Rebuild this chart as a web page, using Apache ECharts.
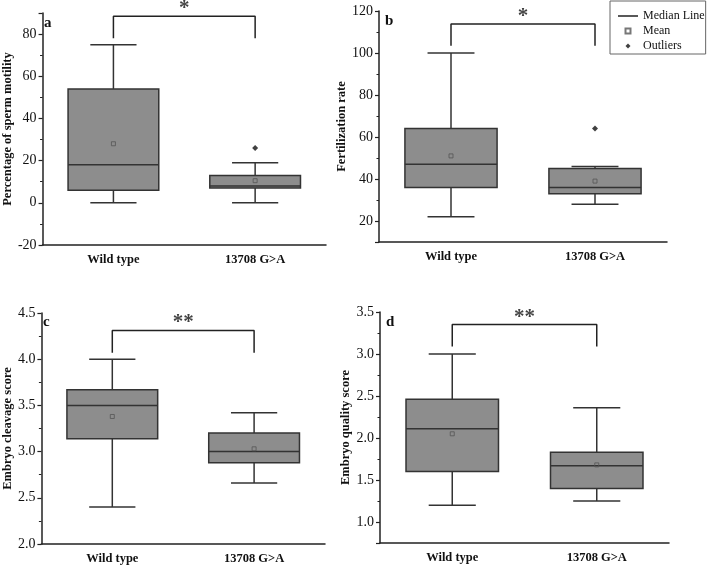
<!DOCTYPE html>
<html>
<head>
<meta charset="UTF-8">
<title>Box plots</title>
<script src="https://cdn.jsdelivr.net/npm/echarts@6/dist/echarts.min.js"></script>
<style>
  html, body { margin: 0; padding: 0; background: #fff; }
  #main { width: 708px; height: 565px; }
</style>
</head>
<body>
<div id="main"></div>
<script>
var groups = ['Wild type', '13708 G>A'];

// box rows: [min, Q1, median, Q3, max] for Wild type, 13708 G>A
var motilityBox = [[0, 6, 18, 54, 75], [0, 7, 8, 13, 19]];
var motilityMean = [28, 10.5];
var motilityOutliers = [[1, 26]];

var fertilBox = [[22, 36, 47, 64, 100], [28, 33, 36, 45, 46]];
var fertilMean = [51, 39];
var fertilOutliers = [[1, 64]];

var cleavageBox = [[2.4, 3.14, 3.5, 3.67, 4.0], [2.66, 2.88, 3.0, 3.2, 3.42]];
var cleavageMean = [3.38, 3.03];
var cleavageOutliers = [];

var qualityBox = [[1.2, 1.6, 2.11, 2.46, 3.0], [1.25, 1.4, 1.67, 1.83, 2.36]];
var qualityMean = [2.05, 1.68];
var qualityOutliers = [];

// significance brackets: [bottom, top] of bracket, and the mark
var motilityBracket = [78, 88.5];
var fertilBracket = [103.4, 113.8];
var cleavageBracket = [4.07, 4.31];
var qualityBracket = [3.09, 3.35];
var signif = ['*', '*', '**', '**'];

var yNames = ['Percentage of sperm motility', 'Fertilization rate', 'Embryo cleavage score', 'Embryo quality score'];
var letters = ['a', 'b', 'c', 'd'];

var panels = [
  {box: motilityBox, mean: motilityMean, out: motilityOutliers, br: motilityBracket},
  {box: fertilBox, mean: fertilMean, out: fertilOutliers, br: fertilBracket},
  {box: cleavageBox, mean: cleavageMean, out: cleavageOutliers, br: cleavageBracket},
  {box: qualityBox, mean: qualityMean, out: qualityOutliers, br: qualityBracket}
];

var FONT = '"Liberation Serif", "Times New Roman", serif';
var INK = '#222';

var grids = [
  {left: 38, top: 13, width: 288, height: 232},
  {left: 379, top: 11, width: 288, height: 231},
  {left: 36, top: 313, width: 289, height: 233},
  {left: 380, top: 312, width: 289, height: 231}
];
var yRanges = [
  {min: -20, max: 90, interval: 20, gap: 25, dec: 0},
  {min: 10, max: 120, gap: 27, dec: 0},
  {min: 2, max: 4.5, interval: 0.5, gap: 25, dec: 1},
  {min: 0.75, max: 3.5, gap: 23, dec: 1}
];

function renderBox(params, api) {
  var x = api.value(0);
  var lo = api.coord([x, api.value(1)]);
  var q1 = api.coord([x, api.value(2)]);
  var med = api.coord([x, api.value(3)]);
  var q3 = api.coord([x, api.value(4)]);
  var hi = api.coord([x, api.value(5)]);
  var bw = api.size([1, 0])[0];
  var hb = bw * 0.32, hc = bw * 0.163;
  var cx = lo[0];
  var ln = {stroke: '#333', lineWidth: 1.5};
  return {
    type: 'group',
    children: [
      {type: 'line', shape: {x1: cx, y1: hi[1], x2: cx, y2: q3[1]}, style: ln},
      {type: 'line', shape: {x1: cx, y1: q1[1], x2: cx, y2: lo[1]}, style: ln},
      {type: 'line', shape: {x1: cx - hc, y1: hi[1], x2: cx + hc, y2: hi[1]}, style: ln},
      {type: 'line', shape: {x1: cx - hc, y1: lo[1], x2: cx + hc, y2: lo[1]}, style: ln},
      {type: 'rect', shape: {x: cx - hb, y: q3[1], width: hb * 2, height: q1[1] - q3[1]},
        style: {fill: '#8d8d8d', stroke: '#333', lineWidth: 1.5}},
      {type: 'line', shape: {x1: cx - hb, y1: med[1], x2: cx + hb, y2: med[1]}, style: ln}
    ]
  };
}

var xAxes = [], yAxes = [], series = [], graphics = [];

panels.forEach(function (p, i) {
  var r = yRanges[i];
  xAxes.push({
    type: 'category', gridIndex: i, data: groups,
    axisLine: {onZero: false, lineStyle: {color: INK, width: 1.5}},
    axisTick: {alignWithLabel: true, length: 4, lineStyle: {color: INK, width: 1.5}},
    axisLabel: {fontFamily: FONT, fontWeight: 'bold', fontSize: 12.5, color: '#111', margin: 8},
    splitLine: {show: false}
  });
  var ya = {
    type: 'value', gridIndex: i, min: r.min, max: r.max,
    name: yNames[i], nameLocation: 'middle', nameGap: r.gap,
    nameTextStyle: {fontFamily: FONT, fontWeight: 'bold', fontSize: 12.5, color: '#111'},
    axisLine: {show: true, onZero: false, lineStyle: {color: INK, width: 1.5}},
    axisTick: {show: true, length: 4, lineStyle: {color: INK, width: 1.2}},
    minorTick: {show: true, splitNumber: 2, length: 2.5, lineStyle: {color: INK, width: 1}},
    axisLabel: {
      fontFamily: FONT, fontSize: 14, color: '#111', margin: 6,
      showMinLabel: r.interval ? true : false, showMaxLabel: i === 0 ? false : true,
      formatter: (function (d) { return function (v) { return v.toFixed(d); }; })(r.dec)
    },
    splitLine: {show: false}
  };
  if (r.interval) ya.interval = r.interval;
  yAxes.push(ya);

  series.push({
    name: 'Median Line', type: 'custom', xAxisIndex: i, yAxisIndex: i,
    renderItem: renderBox,
    itemStyle: {color: '#8d8d8d'},
    encode: {x: 0, y: [1, 2, 3, 4, 5]},
    data: p.box.map(function (b, k) { return [k].concat(b); }),
    z: 2
  });
  series.push({
    name: 'Mean', type: 'scatter', xAxisIndex: i, yAxisIndex: i,
    symbol: 'rect', symbolSize: 4,
    itemStyle: {color: 'transparent', borderColor: '#555', borderWidth: 1},
    data: p.mean.map(function (m, k) { return [k, m]; }),
    z: 5
  });
  series.push({
    name: 'Outliers', type: 'scatter', xAxisIndex: i, yAxisIndex: i,
    symbol: 'diamond', symbolSize: 6,
    itemStyle: {color: '#111'},
    data: p.out,
    z: 5
  });
  series.push({
    name: 'bracket' + i, type: 'line', xAxisIndex: i, yAxisIndex: i,
    symbol: 'none', silent: true,
    lineStyle: {color: INK, width: 1.5},
    data: [[0, p.br[0]], [0, p.br[1]], [1, p.br[1]], [1, p.br[0]]],
    z: 3
  });
  series.push({
    name: 'sig' + i, type: 'scatter', xAxisIndex: 4 + i, yAxisIndex: i,
    symbolSize: 0, clip: false, silent: true,
    label: {show: true, position: 'top', distance: -3, formatter: signif[i],
      fontFamily: FONT, fontWeight: 'bold', fontSize: 21, color: '#111'},
    data: [[0.5, p.br[1]]]
  });
});

// hidden value axes for placing the significance marks between the groups
panels.forEach(function (p, i) {
  xAxes.push({type: 'value', gridIndex: i, min: -0.5, max: 1.5, show: false});
});

var letterPos = [[44, 16], [385, 14], [43, 315], [386, 315]];
letters.forEach(function (t, i) {
  graphics.push({
    type: 'text', left: letterPos[i][0], top: letterPos[i][1],
    style: {text: t, font: 'bold 15px ' + FONT, fill: '#111'}
  });
});

var myChart = echarts.init(document.getElementById('main'));
var option = {
  animation: false,
  backgroundColor: '#fff',
  grid: grids,
  xAxis: xAxes,
  yAxis: yAxes,
  legend: {
    data: [
      {name: 'Median Line', icon: 'path://M0,0H40V3H0Z', itemStyle: {color: INK, borderWidth: 0}},
      {name: 'Mean', icon: 'path://M0,0H10V10H0Z'},
      {name: 'Outliers', icon: 'path://M5,0L10,5L5,10L0,5Z'}
    ],
    orient: 'vertical', left: 610, top: 1,
    padding: [8, 1, 1, 8],
    itemWidth: 20, itemHeight: 5, itemGap: 1,
    borderColor: '#666', borderWidth: 1,
    textStyle: {fontFamily: FONT, fontSize: 12, color: '#111', lineHeight: 14}
  },
  graphic: graphics,
  series: series
};
myChart.setOption(option);
</script>
</body>
</html>
